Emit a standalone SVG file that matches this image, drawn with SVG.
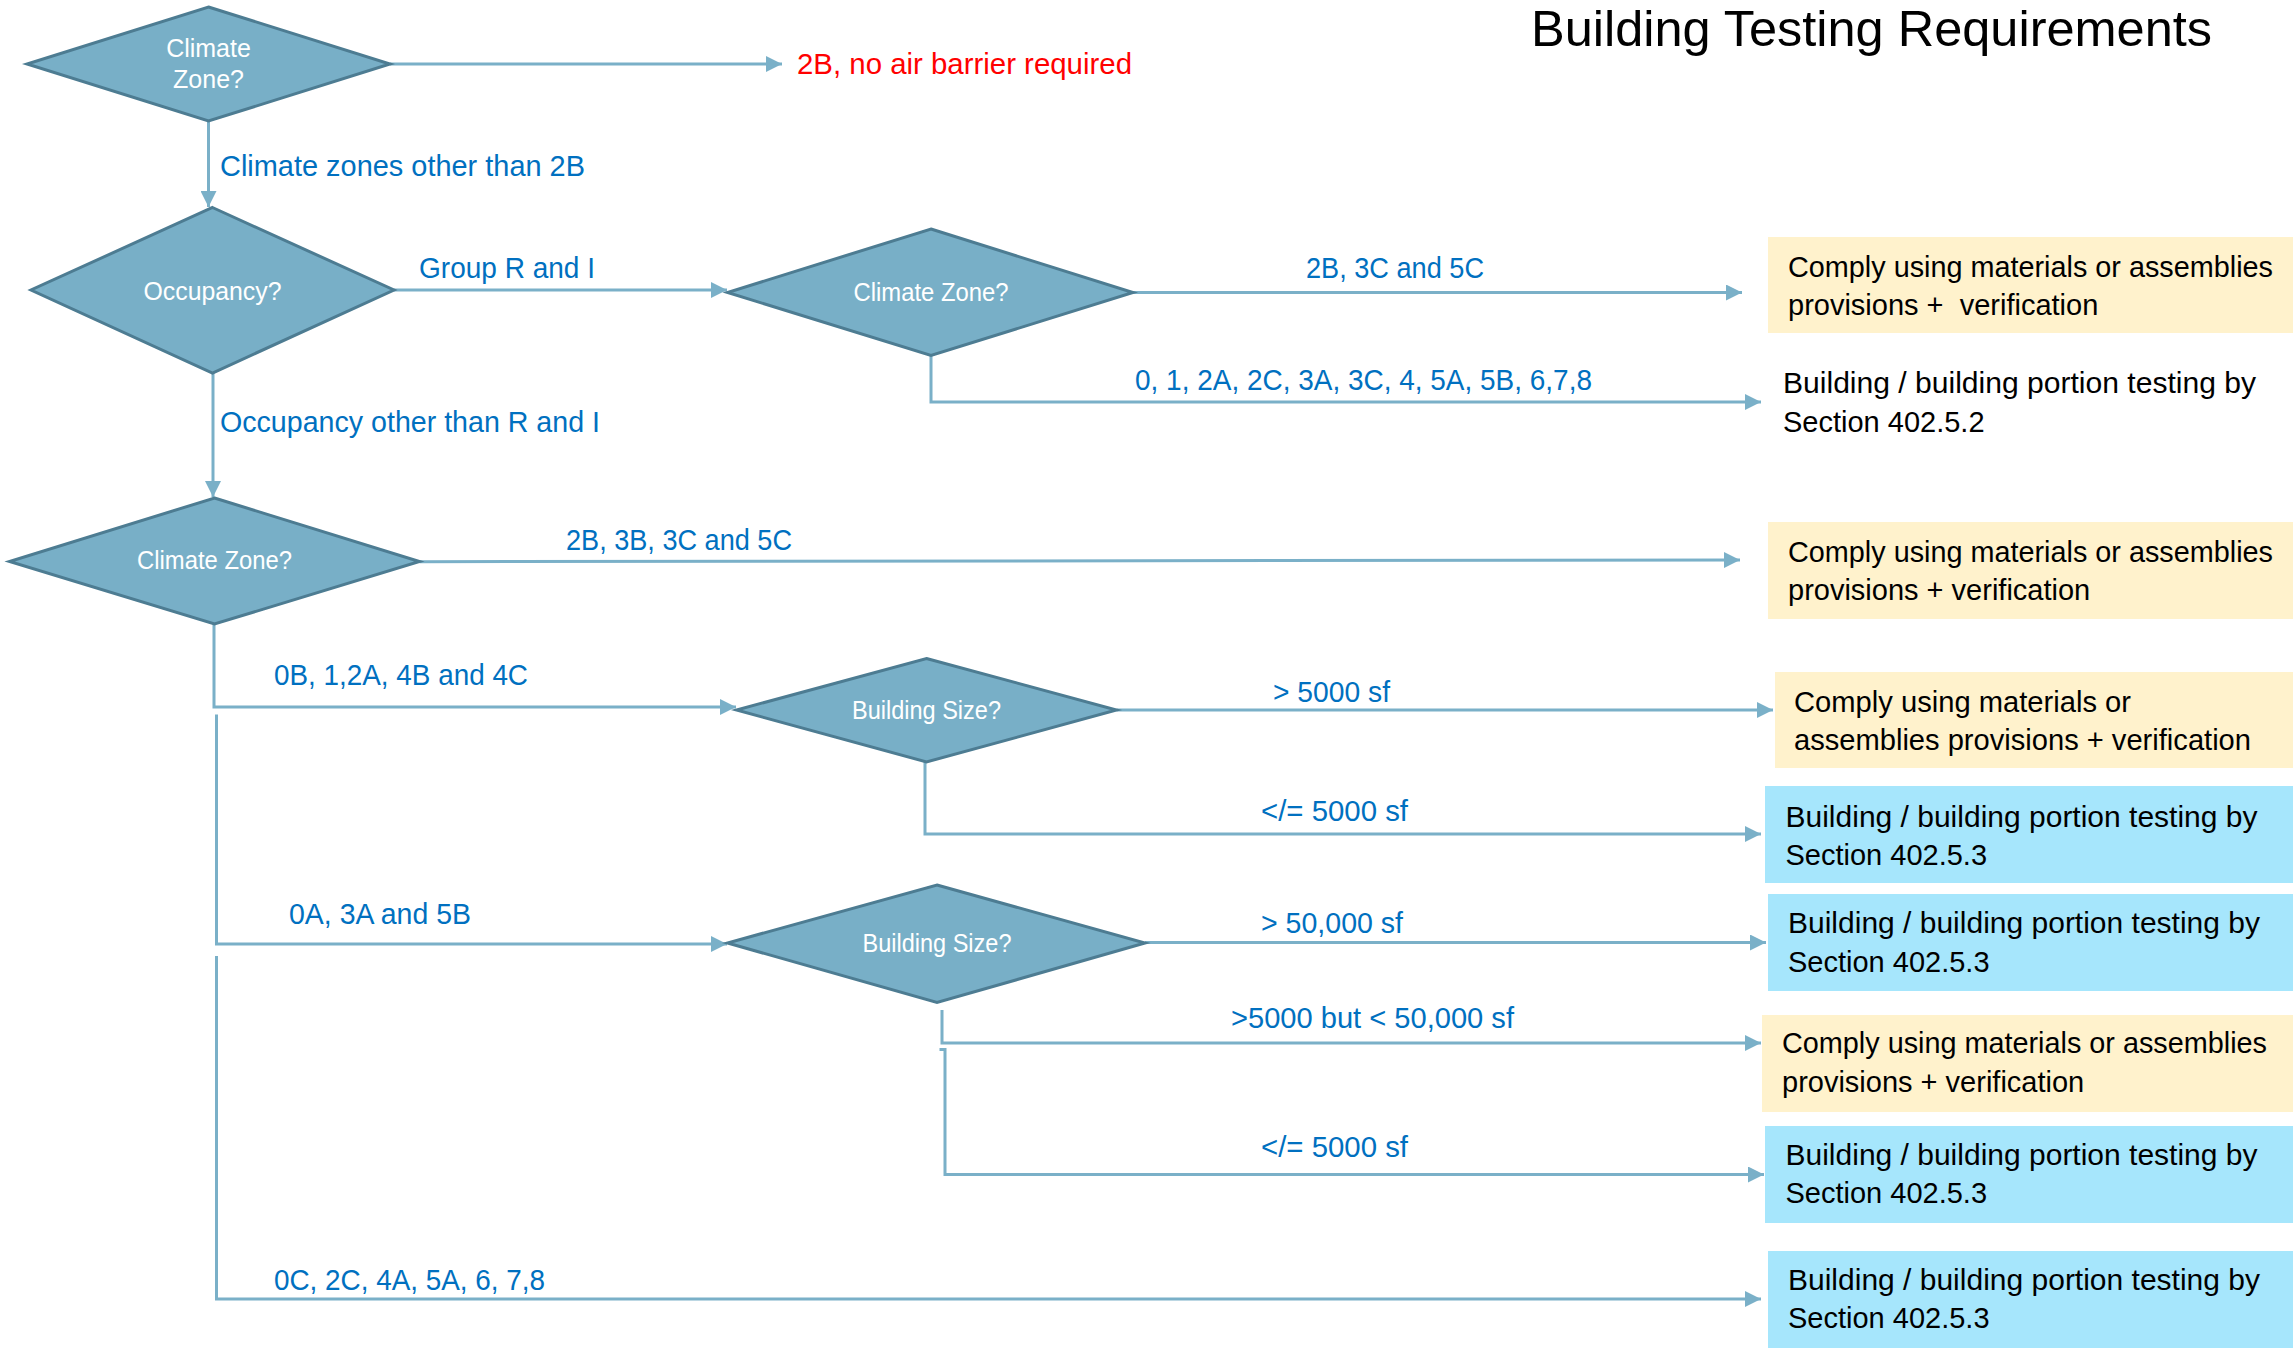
<svg xmlns="http://www.w3.org/2000/svg" width="2293" height="1348" viewBox="0 0 2293 1348">
<style>
.dia{fill:#78AFC7;stroke:#4D7C92;stroke-width:3;stroke-linejoin:miter}
.dt{font-family:"Liberation Sans",Arial,sans-serif;font-size:25px;fill:#FFFFFF;text-anchor:middle}
.ln{fill:none;stroke:#7AB0C8;stroke-width:3}
.lb{font-family:"Liberation Sans",Arial,sans-serif;font-size:29px;fill:#0070C0}
.red{fill:#FF0000}
.bt{font-family:"Liberation Sans",Arial,sans-serif;font-size:29px;fill:#000000}
.yel{fill:#FFF2CC}
.blu{fill:#A6E6FC}
.ttl{font-family:"Liberation Sans",Arial,sans-serif;font-size:50px;fill:#000000}
</style>
<defs>
<marker id="ah" markerUnits="userSpaceOnUse" markerWidth="16" markerHeight="16" refX="16" refY="8" orient="auto">
<path d="M0,0 L16,8 L0,16 z" fill="#7AB0C8"/>
</marker>
</defs>
<rect x="0" y="0" width="2293" height="1348" fill="#FFFFFF"/>

<g id="title">
<text class="ttl" x="1531" y="46" textLength="681" lengthAdjust="spacingAndGlyphs">Building Testing Requirements</text>
</g>

<g id="connectors">
<path class="ln" marker-end="url(#ah)" d="M390 64 H782"/>
<path class="ln" marker-end="url(#ah)" d="M208.5 121 V207"/>
<path class="ln" marker-end="url(#ah)" d="M394 290 H727"/>
<path class="ln" marker-end="url(#ah)" d="M1133 292.5 H1742"/>
<path class="ln" marker-end="url(#ah)" d="M931 355.5 V402 H1761"/>
<path class="ln" marker-end="url(#ah)" d="M213 373 V497"/>
<path class="ln" marker-end="url(#ah)" d="M419.5 561.7 L1740 560"/>
<path class="ln" marker-end="url(#ah)" d="M214 624 V707 H736"/>
<path class="ln" marker-end="url(#ah)" d="M216.5 714.5 V944 H727"/>
<path class="ln" marker-end="url(#ah)" d="M216.5 956 V1299 H1761"/>
<path class="ln" marker-end="url(#ah)" d="M1116.5 710 H1773"/>
<path class="ln" marker-end="url(#ah)" d="M925 762 V834 H1761"/>
<path class="ln" marker-end="url(#ah)" d="M1145 942.5 H1766"/>
<path class="ln" marker-end="url(#ah)" d="M942 1010 V1043 H1761"/>
<path class="ln" marker-end="url(#ah)" d="M939.5 1049.5 H945 V1174.5 H1764"/>
<text class="lb red" x="797" y="74" textLength="335" lengthAdjust="spacingAndGlyphs">2B, no air barrier required</text>
<text class="lb" x="220" y="176" textLength="365" lengthAdjust="spacingAndGlyphs">Climate zones other than 2B</text>
<text class="lb" x="419" y="278" textLength="176" lengthAdjust="spacingAndGlyphs">Group R and I</text>
<text class="lb" x="1306" y="278" textLength="178" lengthAdjust="spacingAndGlyphs">2B, 3C and 5C</text>
<text class="lb" x="1135" y="390" textLength="457" lengthAdjust="spacingAndGlyphs">0, 1, 2A, 2C, 3A, 3C, 4, 5A, 5B, 6,7,8</text>
<text class="lb" x="220" y="432" textLength="380" lengthAdjust="spacingAndGlyphs">Occupancy other than R and I</text>
<text class="lb" x="566" y="550" textLength="226" lengthAdjust="spacingAndGlyphs">2B, 3B, 3C and 5C</text>
<text class="lb" x="274" y="685" textLength="254" lengthAdjust="spacingAndGlyphs">0B, 1,2A, 4B and 4C</text>
<text class="lb" x="1273" y="702" textLength="117" lengthAdjust="spacingAndGlyphs">&gt; 5000 sf</text>
<text class="lb" x="1261" y="821" textLength="147" lengthAdjust="spacingAndGlyphs">&lt;/= 5000 sf</text>
<text class="lb" x="289" y="924" textLength="182" lengthAdjust="spacingAndGlyphs">0A, 3A and 5B</text>
<text class="lb" x="1261" y="933" textLength="142" lengthAdjust="spacingAndGlyphs">&gt; 50,000 sf</text>
<text class="lb" x="1231" y="1028" textLength="283" lengthAdjust="spacingAndGlyphs">&gt;5000 but &lt; 50,000 sf</text>
<text class="lb" x="1261" y="1157" textLength="147" lengthAdjust="spacingAndGlyphs">&lt;/= 5000 sf</text>
<text class="lb" x="274" y="1290" textLength="271" lengthAdjust="spacingAndGlyphs">0C, 2C, 4A, 5A, 6, 7,8</text>
</g>

<g id="d1-climate-zone">
<polygon class="dia" points="208.5,7 390,64 208.5,121 27,64"/>
<text class="dt" x="208.5" y="57">Climate</text>
<text class="dt" x="208.5" y="88">Zone?</text>
</g>
<g id="d2-occupancy">
<polygon class="dia" points="212.5,207.5 394,290 212.5,373 31,290"/>
<text class="dt" x="212.5" y="300" textLength="138" lengthAdjust="spacingAndGlyphs">Occupancy?</text>
</g>
<g id="d3-climate-zone">
<polygon class="dia" points="931,229 1133,292.5 931,355.5 727.5,292.5"/>
<text class="dt" x="931" y="301" textLength="155" lengthAdjust="spacingAndGlyphs">Climate Zone?</text>
</g>
<g id="d4-climate-zone">
<polygon class="dia" points="214.5,498 419.5,561.5 214.5,624 9.5,561.5"/>
<text class="dt" x="214.5" y="569" textLength="155" lengthAdjust="spacingAndGlyphs">Climate Zone?</text>
</g>
<g id="d5-building-size">
<polygon class="dia" points="926.5,658.5 1116.5,710 926.5,762 736.5,710"/>
<text class="dt" x="926.5" y="719" textLength="149" lengthAdjust="spacingAndGlyphs">Building Size?</text>
</g>
<g id="d6-building-size">
<polygon class="dia" points="937,885 1145,943 937,1002.5 727.5,943"/>
<text class="dt" x="937" y="952" textLength="149" lengthAdjust="spacingAndGlyphs">Building Size?</text>
</g>

<g id="r1-comply">
<rect class="yel" x="1768" y="237" width="525" height="96"/>
<text class="bt" x="1788" y="277" textLength="485" lengthAdjust="spacingAndGlyphs">Comply using materials or assemblies</text>
<text class="bt" x="1788" y="315" style="white-space:pre">provisions +  verification</text>
</g>
<g id="r2-testing-402-5-2">
<text class="bt" x="1783" y="393" textLength="473" lengthAdjust="spacingAndGlyphs">Building / building portion testing by</text>
<text class="bt" x="1783" y="432">Section 402.5.2</text>
</g>
<g id="r3-comply">
<rect class="yel" x="1768" y="522" width="525" height="97"/>
<text class="bt" x="1788" y="562" textLength="485" lengthAdjust="spacingAndGlyphs">Comply using materials or assemblies</text>
<text class="bt" x="1788" y="600">provisions + verification</text>
</g>
<g id="r4-comply">
<rect class="yel" x="1775" y="672" width="518" height="96"/>
<text class="bt" x="1794" y="712" textLength="337" lengthAdjust="spacingAndGlyphs">Comply using materials or</text>
<text class="bt" x="1794" y="750" textLength="457" lengthAdjust="spacingAndGlyphs">assemblies provisions + verification</text>
</g>
<g id="r5-testing">
<rect class="blu" x="1765" y="786" width="528" height="97"/>
<text class="bt" x="1785.5" y="827" textLength="472" lengthAdjust="spacingAndGlyphs">Building / building portion testing by</text>
<text class="bt" x="1785.5" y="865">Section 402.5.3</text>
</g>
<g id="r6-testing">
<rect class="blu" x="1768" y="894" width="525" height="97"/>
<text class="bt" x="1788" y="933" textLength="472" lengthAdjust="spacingAndGlyphs">Building / building portion testing by</text>
<text class="bt" x="1788" y="972">Section 402.5.3</text>
</g>
<g id="r7-comply">
<rect class="yel" x="1762" y="1015" width="531" height="97"/>
<text class="bt" x="1782" y="1053" textLength="485" lengthAdjust="spacingAndGlyphs">Comply using materials or assemblies</text>
<text class="bt" x="1782" y="1092">provisions + verification</text>
</g>
<g id="r8-testing">
<rect class="blu" x="1765" y="1126" width="528" height="97"/>
<text class="bt" x="1785.5" y="1165" textLength="472" lengthAdjust="spacingAndGlyphs">Building / building portion testing by</text>
<text class="bt" x="1785.5" y="1203">Section 402.5.3</text>
</g>
<g id="r9-testing">
<rect class="blu" x="1768" y="1251" width="525" height="97"/>
<text class="bt" x="1788" y="1290" textLength="472" lengthAdjust="spacingAndGlyphs">Building / building portion testing by</text>
<text class="bt" x="1788" y="1328">Section 402.5.3</text>
</g>
</svg>
